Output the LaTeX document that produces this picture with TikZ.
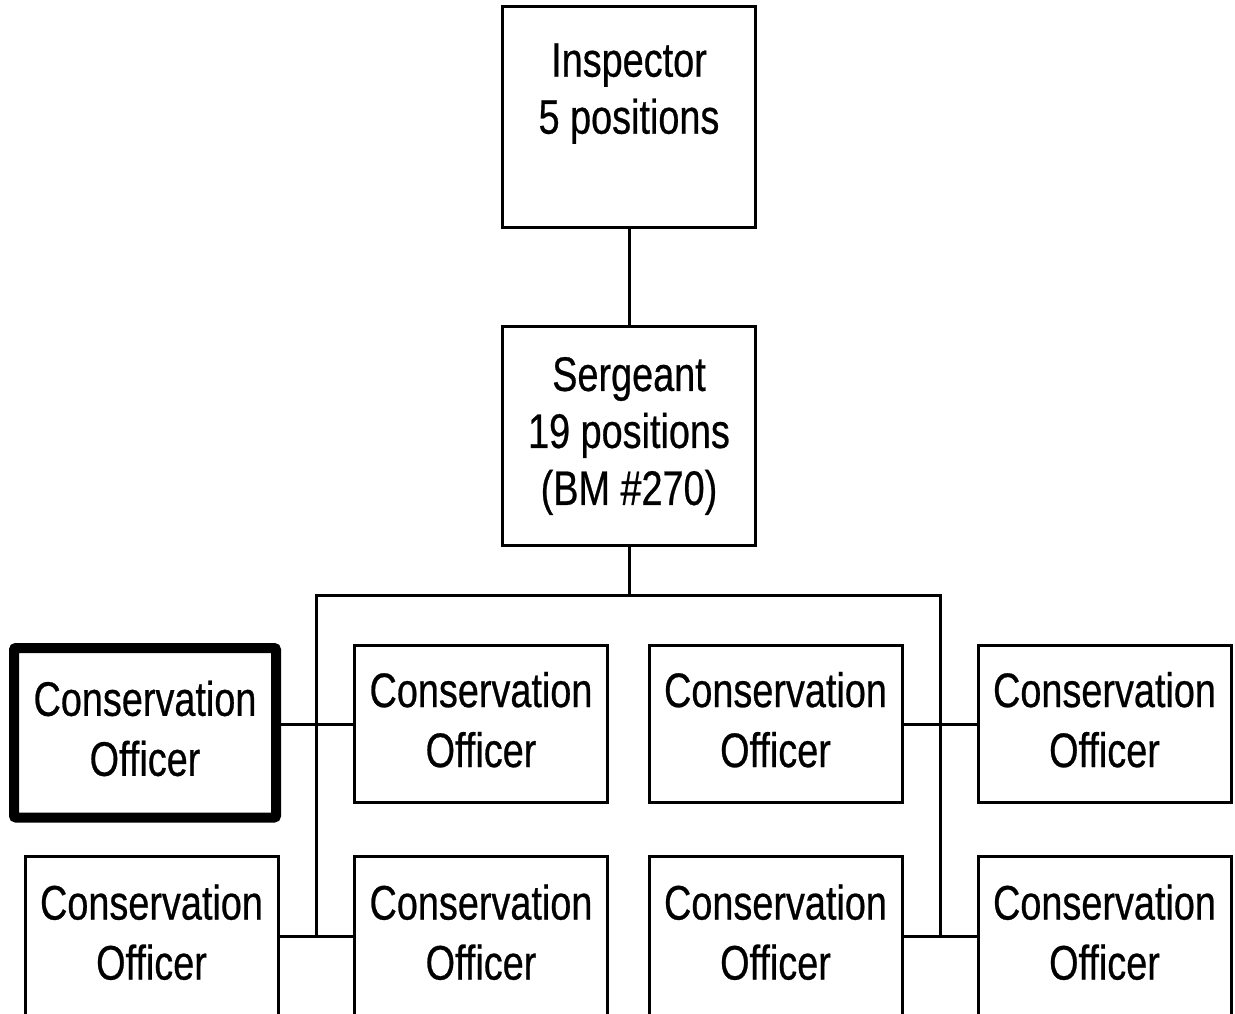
\documentclass[tikz,border=0pt]{standalone}
\usepackage{fontspec}
\setmainfont[FakeStretch=0.78,FakeBold=0.5]{Liberation Sans}
\begin{document}
\begin{tikzpicture}[x=1pt,y=-1pt,
  box/.style={draw=black, line width=3pt, rectangle, inner sep=0pt, align=center,
    font=\fontsize{48.5pt}{57pt}\selectfont, minimum width=253pt, minimum height=157pt},
  cobox/.style={box, font=\fontsize{48.5pt}{60pt}\selectfont},
  conn/.style={draw=black, line width=3pt}]
\useasboundingbox (0,0) rectangle (1235,1014);
\fill[white] (0,0) rectangle (1235,1014);
\clip (0,0) rectangle (1235,1014);

\node[box, minimum height=221pt] (insp) at (629,117) {Inspector\\5 positions\\\mbox{}};
\node[box, minimum height=219pt] (serg) at (629,436) {Sergeant\\19 positions\\(BM \#270)};

\node[cobox, line width=10pt, rounded corners=2pt, minimum width=262pt, minimum height=169.5pt]
  (coA) at (145,732.75) {Conservation\\Officer\rule[-9pt]{0pt}{0pt}};
\node[cobox] (coB) at (481,724) {Conservation\\Officer\rule[-9pt]{0pt}{0pt}};
\node[cobox] (coE) at (775.5,724) {Conservation\\Officer\rule[-9pt]{0pt}{0pt}};
\node[cobox] (coF) at (1104.5,724) {Conservation\\Officer\rule[-9pt]{0pt}{0pt}};

\node[cobox, minimum height=160pt] (coC) at (151.5,936.5) {Conservation\\Officer\rule[-9pt]{0pt}{0pt}};
\node[cobox, minimum height=160pt] (coD) at (481,936.5) {Conservation\\Officer\rule[-9pt]{0pt}{0pt}};
\node[cobox, minimum height=160pt] (coG) at (775.5,936.5) {Conservation\\Officer\rule[-9pt]{0pt}{0pt}};
\node[cobox, minimum height=160pt] (coH) at (1104.5,936.5) {Conservation\\Officer\rule[-9pt]{0pt}{0pt}};

\coordinate (busM) at (629,595);
\coordinate (busL) at (316.5,595);
\coordinate (busR) at (940,595);

\draw[conn] (insp.south) -- (serg.north);
\draw[conn] (serg.south) -- (busM);
\draw[conn] (busL |- coD.west) -- (busL) -- (busR) -- (busR |- coH.west);
\draw[conn] (coB.west) -- (coB.west -| coA.east);
\draw[conn] (coC.east) -- (coD.west);
\draw[conn] (coE.east) -- (coF.west);
\draw[conn] (coG.east) -- (coH.west);
\end{tikzpicture}
\end{document}
